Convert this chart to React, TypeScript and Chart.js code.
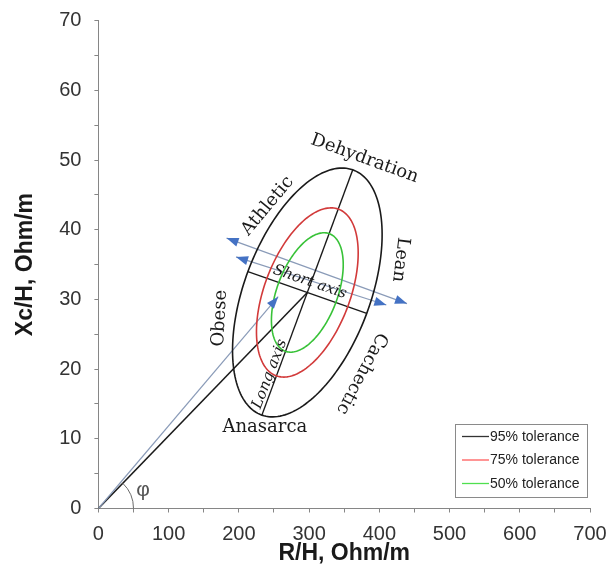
import React, { useEffect, useRef } from "react";
import { Chart, registerables } from "chart.js";
Chart.register(...registerables);

// ---- axis ranges / ticks ----
const xRange = [0, 700];
const yRange = [0, 70];
const xStep = 50; // minor tick; labels every 100
const yStep = 5; // minor tick; labels every 10

// ---- tolerance ellipses (data units) ----
const ellipseCenter = [297.5, 31.0];
const longAxisHalf = [64.7, 17.6];
const shortAxisHalf = [84.6, -3.0];
const toleranceLabels = ["95% tolerance", "75% tolerance", "50% tolerance"];
const toleranceScales = [1.0, 0.68, 0.48];
const toleranceColors = ["#1a1a1a", "#d23a3a", "#38c238"];
const legendColors = ["#333333", "#ff5c5c", "#4fe04f"];

// ---- vectors / arrows (data units) ----
const vectorEnd = [256, 30.4];
const arrowUpper = [
  [182.5, 38.8],
  [439.4, 29.4],
];
const arrowLower = [
  [196, 36.1],
  [410, 29.2],
];
const phiArcRadius = 50;

// ---- text annotations (data units, rotation deg) ----
const annotations = [
  { text: "Dehydration", x: 379, y: 50.2, rot: 20, italic: false, size: 18 },
  { text: "Athletic", x: 241, y: 43.4, rot: -50, italic: false, size: 18 },
  { text: "Lean", x: 430, y: 35.7, rot: 97, italic: false, size: 18 },
  { text: "Obese", x: 173, y: 27.3, rot: -87, italic: false, size: 18 },
  { text: "Cachectic", x: 375, y: 19.4, rot: 118, italic: false, size: 18 },
  { text: "Anasarca", x: 237, y: 11.6, rot: 0, italic: false, size: 18 },
  { text: "Short axis", x: 301, y: 32.5, rot: 19, italic: true, size: 15 },
  { text: "Long axis", x: 244, y: 19.3, rot: -69, italic: true, size: 15 },
];

const cx = ellipseCenter[0];
const cy = ellipseCenter[1];

const overlayPlugin = {
  id: "overlay",
  afterDatasetsDraw(chart: any) {
    const { ctx, scales, chartArea } = chart;
    const xs = scales.x;
    const ys = scales.y;
    const px = (v: number) => xs.getPixelForValue(v);
    const py = (v: number) => ys.getPixelForValue(v);

    // ellipses
    toleranceScales.forEach((s, i) => {
      ctx.save();
      ctx.beginPath();
      for (let d = 0; d <= 360; d += 2) {
        const t = (d * Math.PI) / 180;
        const dx = cx + s * (Math.cos(t) * longAxisHalf[0] + Math.sin(t) * shortAxisHalf[0]);
        const dy = cy + s * (Math.cos(t) * longAxisHalf[1] + Math.sin(t) * shortAxisHalf[1]);
        if (d === 0) ctx.moveTo(px(dx), py(dy));
        else ctx.lineTo(px(dx), py(dy));
      }
      ctx.closePath();
      ctx.strokeStyle = toleranceColors[i];
      ctx.lineWidth = 1.6;
      ctx.stroke();
      ctx.restore();
    });

    // arrowheads
    const head = (from: number[], to: number[]) => {
      const x1 = px(from[0]), y1 = py(from[1]);
      const x2 = px(to[0]), y2 = py(to[1]);
      const a = Math.atan2(y2 - y1, x2 - x1);
      const L = 12, W = 4.5;
      ctx.save();
      ctx.translate(x2, y2);
      ctx.rotate(a);
      ctx.beginPath();
      ctx.moveTo(0, 0);
      ctx.lineTo(-L, -W);
      ctx.lineTo(-L, W);
      ctx.closePath();
      ctx.fillStyle = "#4472c4";
      ctx.fill();
      ctx.restore();
    };
    head([0, 0], vectorEnd);
    head(arrowUpper[0], arrowUpper[1]);
    head(arrowUpper[1], arrowUpper[0]);
    head(arrowLower[0], arrowLower[1]);
    head(arrowLower[1], arrowLower[0]);

    // phi arc
    const ox = px(0), oy = py(0);
    const r = px(phiArcRadius) - ox;
    const ang = Math.atan2(py(cy) - oy, px(cx) - ox);
    ctx.save();
    ctx.beginPath();
    ctx.arc(ox, oy, r, ang, 0, false);
    ctx.strokeStyle = "#6a6a6a";
    ctx.lineWidth = 1;
    ctx.stroke();
    ctx.font = "21px 'Liberation Sans', Arial, sans-serif";
    ctx.fillStyle = "#555555";
    ctx.textAlign = "center";
    ctx.textBaseline = "middle";
    ctx.fillText("φ", px(63.5), py(2.6));
    ctx.restore();

    // text annotations
    annotations.forEach((a) => {
      ctx.save();
      ctx.translate(px(a.x), py(a.y));
      ctx.rotate((a.rot * Math.PI) / 180);
      ctx.font = `${a.italic ? "italic " : ""}${a.size}px 'DejaVu Serif', serif`;
      ctx.fillStyle = "#1a1a1a";
      ctx.textAlign = "center";
      ctx.textBaseline = "middle";
      ctx.fillText(a.text, 0, 0);
      ctx.restore();
    });

    // legend
    const boxR = chartArea.right - 3;
    const boxB = chartArea.bottom - 11.5;
    const boxW = 132, boxH = 73;
    const boxL = boxR - boxW, boxT = boxB - boxH;
    ctx.save();
    ctx.fillStyle = "#ffffff";
    ctx.fillRect(boxL, boxT, boxW, boxH);
    ctx.strokeStyle = "#8a8a8a";
    ctx.lineWidth = 1;
    ctx.strokeRect(Math.round(boxL) + 0.5, Math.round(boxT) + 0.5, boxW, boxH);
    ctx.font = "14px 'Liberation Sans', Arial, sans-serif";
    ctx.textBaseline = "middle";
    ctx.textAlign = "left";
    toleranceLabels.forEach((lab, i) => {
      const yy = boxT + 12.5 + i * 23.5;
      ctx.beginPath();
      ctx.moveTo(boxL + 7, yy);
      ctx.lineTo(boxL + 34, yy);
      ctx.strokeStyle = legendColors[i];
      ctx.lineWidth = 1.3;
      ctx.stroke();
      ctx.fillStyle = "#222222";
      ctx.fillText(lab, boxL + 35, yy + 0.5);
    });
    ctx.restore();
  },
};

export default function App() {
  const ref = useRef<HTMLCanvasElement | null>(null);
  useEffect(() => {
    if (!ref.current) return;
    const lineDs = (pts: number[][], color: string, width: number) => ({
      data: pts.map((p) => ({ x: p[0], y: p[1] })),
      showLine: true,
      borderColor: color,
      borderWidth: width,
      pointRadius: 0,
      fill: false,
    });
    const chart = new Chart(ref.current, {
      type: "scatter",
      data: {
        datasets: [
          lineDs([[0, 0], vectorEnd], "#8a9bb8", 1.2),
          lineDs([[0, 0], ellipseCenter], "#1a1a1a", 1.5),
          lineDs(
            [
              [cx - longAxisHalf[0], cy - longAxisHalf[1]],
              [cx + longAxisHalf[0], cy + longAxisHalf[1]],
            ],
            "#1a1a1a",
            1.4
          ),
          lineDs(
            [
              [cx - shortAxisHalf[0], cy - shortAxisHalf[1]],
              [cx + shortAxisHalf[0], cy + shortAxisHalf[1]],
            ],
            "#1a1a1a",
            1.4
          ),
          lineDs(arrowUpper, "#8a9bb8", 1.2),
          lineDs(arrowLower, "#8a9bb8", 1.2),
        ] as any,
      },
      options: {
        animation: false,
        responsive: false,
        layout: { padding: { left: 0, top: 20.7, right: 19, bottom: 0 } },
        plugins: { legend: { display: false }, tooltip: { enabled: false } },
        scales: {
          x: {
            type: "linear",
            min: xRange[0],
            max: xRange[1],
            ticks: {
              stepSize: xStep,
              autoSkip: false,
              maxRotation: 0,
              padding: 10,
              color: "#333333",
              font: { family: "'Liberation Sans', Arial, sans-serif", size: 20 },
              callback: (v: any) => (Number(v) % 100 === 0 ? String(v) : ""),
            },
            grid: { display: true, drawOnChartArea: false, drawTicks: true, tickLength: 4, color: "#868686" },
            border: { display: true, color: "#868686", width: 1 },
            title: {
              display: true,
              text: "R/H, Ohm/m",
              color: "#1a1a1a",
              font: { family: "'Liberation Sans', Arial, sans-serif", size: 23, weight: "bold" },
              padding: { top: 0, bottom: 6 },
            },
            afterFit: (s: any) => {
              s.height = 64.5;
              s.paddingLeft = 0;
              s.paddingRight = 0;
            },
          },
          y: {
            type: "linear",
            min: yRange[0],
            max: yRange[1],
            ticks: {
              stepSize: yStep,
              autoSkip: false,
              padding: 13,
              color: "#333333",
              font: { family: "'Liberation Sans', Arial, sans-serif", size: 20 },
              callback: (v: any) => (Number(v) % 10 === 0 ? String(v) : ""),
            },
            grid: { display: true, drawOnChartArea: false, drawTicks: true, tickLength: 4, color: "#868686" },
            border: { display: true, color: "#868686", width: 1 },
            title: {
              display: true,
              text: "Xc/H, Ohm/m",
              color: "#1a1a1a",
              font: { family: "'Liberation Sans', Arial, sans-serif", size: 23, weight: "bold" },
              padding: { top: 12, bottom: 0 },
            },
            afterFit: (s: any) => {
              s.width = 98.4;
              s.paddingTop = 0;
              s.paddingBottom = 0;
            },
          },
        },
      } as any,
      plugins: [overlayPlugin],
    });
    return () => chart.destroy();
  }, []);
  return (
    <div style={{ position: "absolute", left: 0, top: 0, width: 609, height: 573, background: "#fff" }}>
      <canvas ref={ref} width={609} height={573} style={{ display: "block" }} />
    </div>
  );
}
